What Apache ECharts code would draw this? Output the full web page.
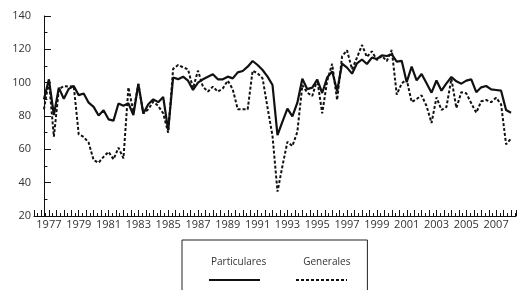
<!DOCTYPE html>
<html>
<head>
<meta charset="utf-8">
<script src="https://cdn.jsdelivr.net/npm/echarts@6/dist/echarts.min.js"></script>
<style>html,body{margin:0;padding:0;background:#fff;}#c{width:521px;height:290px;}</style>
</head>
<body>
<div id="c"></div>
<script>
const seriesNames = ['Particulares', 'Generales'];
const yearLabels = ['1977','1979','1981','1983','1985','1987','1989','1991','1993','1995','1997','1999','2001','2003','2005','2007'];
const particulares = [
90.0, 102.0, 80.6, 97.0, 90.3, 96.3, 98.0, 92.5, 93.5, 88.0,
85.5, 80.3, 83.4, 78.0, 77.2, 87.5, 86.2, 87.6, 80.6, 99.2,
81.5, 87.0, 90.0, 88.3, 91.4, 71.5, 103.1, 102.1, 103.6, 101.2,
95.6, 100.0, 102.0, 103.6, 105.0, 102.0, 102.0, 103.6, 102.6, 106.2,
107.0, 109.6, 113.0, 110.6, 107.6, 103.6, 98.6, 68.5, 76.6, 84.4,
79.8, 88.0, 102.4, 96.1, 97.0, 101.8, 93.8, 103.1, 106.8, 95.0,
111.4, 109.0, 105.4, 111.6, 113.9, 111.2, 115.0, 114.2, 116.4, 116.0,
117.0, 112.6, 113.1, 100.3, 109.6, 101.4, 105.2, 99.6, 94.0, 101.3,
95.2, 99.6, 103.4, 100.8, 99.4, 101.2, 102.0, 94.3, 97.2, 98.0,
96.0, 95.6, 95.2, 83.6, 82.0
];
const generales = [
84.0, 101.2, 67.6, 96.0, 98.0, 97.6, 98.0, 69.0, 67.5, 64.0,
53.5, 52.0, 55.5, 58.5, 54.0, 61.0, 54.6, 97.2, 82.6, 99.2,
81.6, 84.0, 88.6, 86.0, 81.6, 70.0, 108.3, 110.6, 109.2, 108.0,
96.6, 107.2, 97.6, 94.6, 97.6, 94.6, 96.6, 101.2, 96.0, 84.0,
84.0, 84.0, 107.2, 105.6, 102.6, 85.0, 68.0, 34.6, 50.0, 64.5,
62.0, 70.5, 98.5, 94.0, 92.0, 101.8, 81.6, 101.0, 111.3, 89.6,
115.8, 119.4, 108.0, 115.0, 122.6, 115.4, 118.8, 113.6, 116.0, 113.0,
119.6, 92.8, 99.6, 102.0, 88.4, 90.2, 92.4, 86.0, 75.8, 91.2,
83.6, 85.4, 102.4, 84.8, 94.3, 93.6, 87.6, 82.0, 88.8, 89.6,
88.3, 91.0, 87.0, 63.0, 66.4
];
const yTicks = [20, 40, 60, 80, 100, 120, 140];

const FONT = 'Open Sans';
const chart = echarts.init(document.getElementById('c'), null, {renderer: 'canvas'});
const toPairs = arr => arr.map((v, i) => [i, v]);
chart.setOption({
  animation: false,
  backgroundColor: '#fff',
  textStyle: {fontFamily: FONT},
  grid: {left: 34, top: 16, bottom: 74, right: 5},
  xAxis: [{
    type: 'value', min: -2, max: 95, interval: 1, position: 'bottom',
    axisLine: {show: true, lineStyle: {color: '#111', width: 1}},
    axisTick: {show: false},
    splitLine: {show: false},
    axisLabel: {
      color: '#333', fontSize: 11, fontFamily: FONT, margin: 3,
      formatter: v => {
        const k = (v - 1) / 6;
        return (Number.isInteger(k) && k >= 0 && k < yearLabels.length) ? yearLabels[k] : '';
      }
    }
  }, {
    type: 'value', min: 0, max: 129.3, interval: 2, position: 'bottom',
    axisLine: {show: false},
    axisTick: {show: true, inside: true, length: 6, lineStyle: {color: '#111', width: 1}},
    minorTick: {show: true, splitNumber: 2, length: 3, lineStyle: {color: '#111', width: 1}},
    splitLine: {show: false}, minorSplitLine: {show: false},
    axisLabel: {show: false}
  }],
  yAxis: {
    type: 'value', min: yTicks[0], max: yTicks[yTicks.length - 1], interval: 20,
    axisLine: {show: true, lineStyle: {color: '#111', width: 1}},
    axisTick: {show: true, inside: true, length: 7, lineStyle: {color: '#111'}},
    minorTick: {show: true, splitNumber: 2, length: 3.5, lineStyle: {color: '#111'}},
    splitLine: {show: false},
    axisLabel: {color: '#333', fontSize: 11, fontFamily: FONT, margin: 3}
  },
  legend: [{
    left: 182, top: 240,
    padding: [17, 17, 40, 23],
    itemGap: 31,
    itemWidth: 0, itemHeight: 0,
    borderColor: '#222', borderWidth: 1,
    textStyle: {color: '#333', fontSize: 10, fontFamily: FONT},
    data: seriesNames
  }, {
    left: 208, top: 273,
    padding: 0,
    itemGap: 34,
    itemWidth: 51, itemHeight: 14,
    itemStyle: {opacity: 0, color: 'rgba(0,0,0,0)', borderColor: 'rgba(0,0,0,0)', borderWidth: 0},
    formatter: () => '',
    data: seriesNames
  }],
  series: [{
    name: seriesNames[0], type: 'line', xAxisIndex: 0, symbol: 'none',
    lineStyle: {color: '#111', width: 2.2, type: 'solid'},
    itemStyle: {color: '#111'},
    data: toPairs(particulares)
  }, {
    name: seriesNames[1], type: 'line', xAxisIndex: 0, symbol: 'none',
    lineStyle: {color: '#111', width: 2, type: [3, 2]},
    itemStyle: {color: '#111'},
    data: toPairs(generales)
  }]
});
</script>
</body>
</html>
